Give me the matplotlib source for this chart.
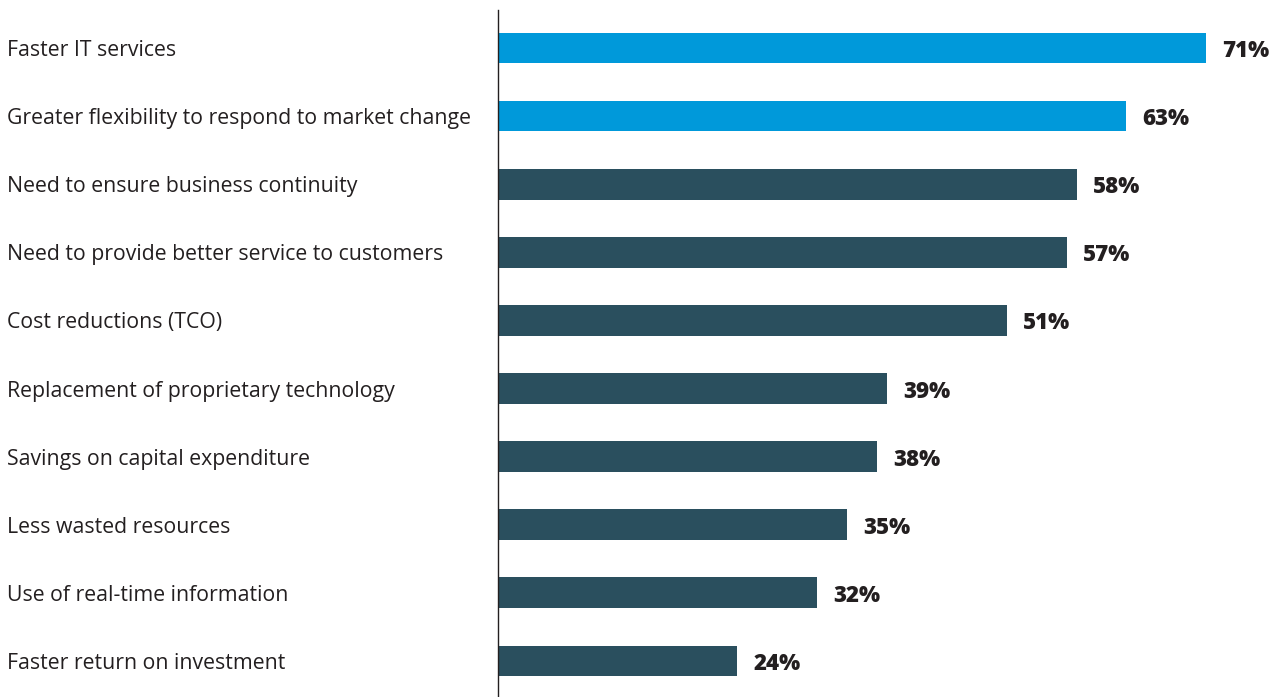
import matplotlib
matplotlib.use("Agg")
import matplotlib.pyplot as plt
from matplotlib.transforms import blended_transform_factory

categories = [
    "Faster IT services",
    "Greater flexibility to respond to market change",
    "Need to ensure business continuity",
    "Need to provide better service to customers",
    "Cost reductions (TCO)",
    "Replacement of proprietary technology",
    "Savings on capital expenditure",
    "Less wasted resources",
    "Use of real-time information",
    "Faster return on investment",
]
values = [71, 63, 58, 57, 51, 39, 38, 35, 32, 24]
highlight = [True, True, False, False, False, False, False, False, False, False]

BLUE = "#0099da"
TEAL = "#2a4f5e"
INK = "#231f20"

plt.rcParams["font.family"] = ["Open Sans", "DejaVu Sans"]

fig = plt.figure(figsize=(12.84, 6.97), dpi=100)
ax = fig.add_axes([498 / 1284, 0, 786 / 1284, 687 / 697])

ypos = list(range(len(categories)))
colors = [BLUE if h else TEAL for h in highlight]
ax.barh(ypos, values, height=0.45, color=colors)

ax.set_xlim(0, 78.8)
ax.set_ylim(9.53, -0.558)

for y, v in zip(ypos, values):
    ax.annotate(f"{v}%", xy=(v, y), xytext=(11.5, 0), textcoords="offset points",
                ha="left", va="center_baseline", fontsize=16, fontweight="heavy",
                color=INK)

# category labels sit at the left edge of the figure
trans = blended_transform_factory(fig.transFigure, ax.transData)
for y, name in zip(ypos, categories):
    ax.text(7 / 1284, y, name, transform=trans, ha="left", va="center_baseline",
            fontsize=15.3, color=INK, clip_on=False)

for side in ["top", "right", "bottom"]:
    ax.spines[side].set_visible(False)
ax.spines["left"].set_color(INK)
ax.spines["left"].set_linewidth(1.0)
ax.set_xticks([])
ax.set_yticks([])

fig.savefig("out.png", dpi=100)
